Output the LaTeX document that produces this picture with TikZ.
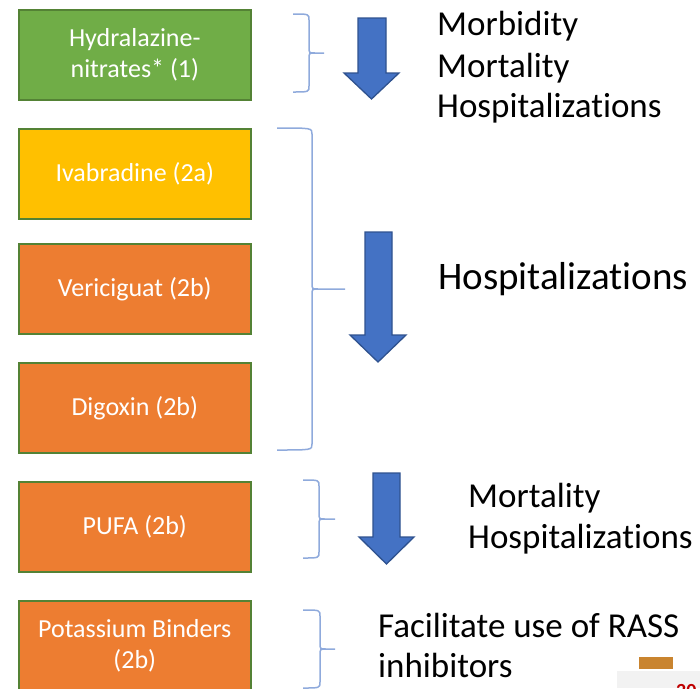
\documentclass[tikz,border=0pt]{standalone}
\usepackage{fontspec}
\setmainfont{Carlito}[Ligatures=NoCommon]

\definecolor{drgreen}{HTML}{70AD47}
\definecolor{dryellow}{HTML}{FFC000}
\definecolor{drorange}{HTML}{ED7D31}
\definecolor{boxedge}{HTML}{548235}
\definecolor{bracecol}{HTML}{8FAADC}
\definecolor{arrowfill}{HTML}{4472C4}
\definecolor{arrowedge}{HTML}{2F528F}
\definecolor{logoorange}{HTML}{C9842F}

% right curly brace: left arm x, stem x, tip x, top y, middle y, bottom y
\newcommand{\drawbrace}[6]{%
  \draw[bracestyle] (#1,-#4) .. controls (#2,-#4) .. (#2,-#4-6) -- (#2,-#5+6)
    .. controls (#2,-#5) .. (#2+6,-#5) -- (#3,-#5)
    (#2+6,-#5) .. controls (#2,-#5) .. (#2,-#5-6) -- (#2,-#6+6)
    .. controls (#2,-#6) .. (#1,-#6);}

% block arrow pointing down: shaft left, shaft right, top, head start, head left, head right, tip
\newcommand{\bluearrow}[7]{%
  \draw[blockarrow] (#1,-#3) -- (#2,-#3) -- (#2,-#4) -- (#6,-#4)
    -- ({(#5+#6)/2},-#7) -- (#5,-#4) -- (#1,-#4) -- cycle;}

\tikzset{
  drug/.style={draw=boxedge, line width=1.6pt, minimum width=232pt,
    minimum height=90pt, text=white, font=\fontsize{26}{31}\selectfont,
    align=center, anchor=north west, inner sep=0pt},
  effect/.style={anchor=base west, inner sep=0pt, text=black,
    font=\fontsize{35}{42}\selectfont},
  bigeffect/.style={anchor=base west, inner sep=0pt, text=black,
    font=\fontsize{39}{47}\selectfont},
  bracestyle/.style={draw=bracecol, line width=1.5pt},
  blockarrow/.style={fill=arrowfill, draw=arrowedge, line width=1.3pt, line join=miter},
}

\begin{document}
\begin{tikzpicture}[x=1pt,y=1pt]
\useasboundingbox (0,0) rectangle (700,-688);
\clip (0,0) rectangle (700,-688);

% drug boxes
\node[drug, fill=drgreen]  (hyd)  at (18,-9)   {Hydralazine-\\nitrates* (1)};
\node[drug, fill=dryellow] (iva)  at (18,-128) {Ivabradine (2a)};
\node[drug, fill=drorange] (ver)  at (18,-243) {Vericiguat (2b)};
\node[drug, fill=drorange] (dig)  at (18,-362) {Digoxin (2b)};
\node[drug, fill=drorange] (pufa) at (18,-481) {PUFA (2b)};
\node[drug, fill=drorange] (pot)  at (18,-600) {Potassium Binders\\(2b)};

% braces
\drawbrace{293}{309}{324}{14}{53}{92}
\drawbrace{277}{312}{345}{128}{289}{450}
\drawbrace{303}{319}{335}{480}{519}{558}
\drawbrace{303}{320}{335}{610}{649}{688}

% arrows
\bluearrow{358}{386}{18}{73}{344}{399}{99}
\bluearrow{365}{392}{232}{335}{350}{406}{362}
\bluearrow{373}{400}{473}{537}{359}{414}{564}

% outcomes
\node[effect] (e1a) at (437,-35)  {Morbidity};
\node[effect] (e1b) at (437,-77)  {Mortality};
\node[effect] (e1c) at (437,-117) {Hospitalizations};
\node[bigeffect] (e2) at (438,-289) {Hospitalizations};
\node[effect] (e3a) at (468,-507) {Mortality};
\node[effect] (e3b) at (468,-548) {Hospitalizations};
\node[effect] (e4a) at (378,-637) {Facilitate use of RASS};
\node[effect] (e4b) at (378,-677) {inhibitors};

% corner logo fragment
\fill[logoorange] (639,-657) rectangle (673,-669);
\fill[black!5] (617,-671) rectangle (700,-688);
\node[anchor=base west, inner sep=0pt, text=red!75!black,
  font=\bfseries\fontsize{20}{20}\selectfont] (logo) at (676,-697) {20};
\end{tikzpicture}
\end{document}
